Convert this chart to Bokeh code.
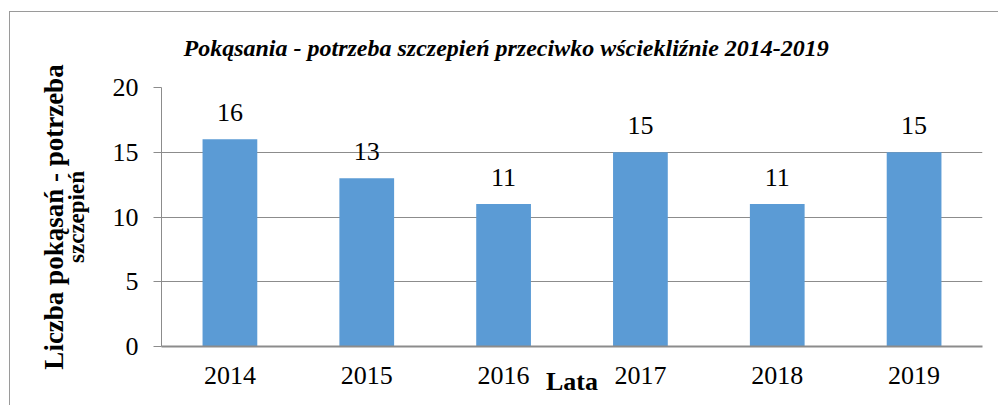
from bokeh.plotting import figure
from bokeh.models import Range1d, LinearAxis, ColumnDataSource, FixedTicker, InlineStyleSheet
from bokeh.core.properties import value
from bokeh.embed import file_html
from bokeh.resources import INLINE

years = ["2014", "2015", "2016", "2017", "2018", "2019"]
counts = [16, 13, 11, 15, 11, 15]
y_ticks = [0, 5, 10, 15, 20]
title_text = "Pokąsania - potrzeba szczepień przeciwko wściekliźnie 2014-2019"
ylabel1 = "Liczba pokąsań - potrzeba"
ylabel2 = "szczepień"
xlabel = "Lata"

FONT = "'Liberation Serif', serif"
GRAY = "#8c8c8c"

xs = [i + 0.5 for i in range(len(years))]
src = ColumnDataSource(dict(x=xs, top=counts, lab=[str(c) for c in counts]))

p = figure(width=998, height=405, output_backend="svg", toolbar_location=None,
           x_range=Range1d(0, len(years)), y_range=Range1d(0, 20),
           min_border_left=161, min_border_right=16, min_border_top=87, min_border_bottom=59)
p.outline_line_color = None
p.background_fill_color = "white"
p.border_fill_color = "white"

p.vbar(x="x", top="top", width=0.4, bottom=0, source=src, color="#5B9BD5", line_color=None)
p.text(x="x", y="top", text="lab", source=src, text_align="center", text_baseline="alphabetic",
       y_offset=-27, text_font=value(FONT), text_font_size="26px", text_color="black")

# title
p.title.text = title_text
p.title.align = "left"
p.title.offset = 22
p.title.standoff = 54
p.title.text_font = FONT
p.title.text_font_size = "24px"
p.title.text_font_style = "bold italic"
p.title.text_color = "black"

# x axis
p.xaxis.ticker = FixedTicker(ticks=xs)
p.xaxis.major_label_overrides = {x: y for x, y in zip(xs, years)}
p.xaxis.major_tick_line_color = None
p.xaxis.major_tick_out = 0
p.xaxis.minor_tick_line_color = None
p.xaxis.axis_line_color = GRAY
p.xaxis.axis_line_width = 2
p.xaxis.major_label_text_font = FONT
p.xaxis.major_label_text_font_size = "26px"
p.xaxis.major_label_text_color = "black"
p.xaxis.major_label_standoff = 20
p.xaxis.axis_label = xlabel
p.xaxis.axis_label_text_font = FONT
p.xaxis.axis_label_text_font_size = "26px"
p.xaxis.axis_label_text_font_style = "bold"
p.xaxis.axis_label_text_color = "black"
p.xaxis.axis_label_standoff = -20

# y axis
p.yaxis.ticker = FixedTicker(ticks=y_ticks)
p.yaxis.major_tick_in = 0
p.yaxis.major_tick_out = 8
p.yaxis.major_tick_line_color = GRAY
p.yaxis.minor_tick_line_color = None
p.yaxis.axis_line_color = GRAY
p.yaxis.major_label_text_font = FONT
p.yaxis.major_label_text_font_size = "26px"
p.yaxis.major_label_text_color = "black"
p.yaxis.major_label_standoff = 15
p.yaxis.axis_label = ylabel2
p.yaxis.axis_label_text_font = FONT
p.yaxis.axis_label_text_font_size = "23px"
p.yaxis.axis_label_text_font_style = "bold"
p.yaxis.axis_label_text_color = "black"
p.yaxis.axis_label_standoff = 21

outer = LinearAxis(ticker=FixedTicker(ticks=[]), axis_label=ylabel1,
                   axis_line_color=None, major_tick_line_color=None, minor_tick_line_color=None,
                   major_tick_out=0, minor_tick_out=0, major_label_text_font_size="0px",
                   axis_label_text_font=FONT, axis_label_text_font_size="27px",
                   axis_label_text_font_style="bold", axis_label_text_color="black",
                   axis_label_standoff=-8)
p.add_layout(outer, "left")

p.xgrid.grid_line_color = None
p.ygrid.grid_line_color = GRAY
p.ygrid.ticker = FixedTicker(ticks=y_ticks)

# outer chart border (top and left edges visible, as in the original)
p.stylesheets = [InlineStyleSheet(css="""
:host { position: relative; overflow: hidden; }
:host::after { content: ""; position: absolute; left: 9px; top: 11px; width: 2000px; height: 2000px;
  border-top: 1.5px solid #9a9a9a; border-left: 1.5px solid #9a9a9a; pointer-events: none; }
""")]

open("out.html", "w").write(file_html(p, INLINE))
